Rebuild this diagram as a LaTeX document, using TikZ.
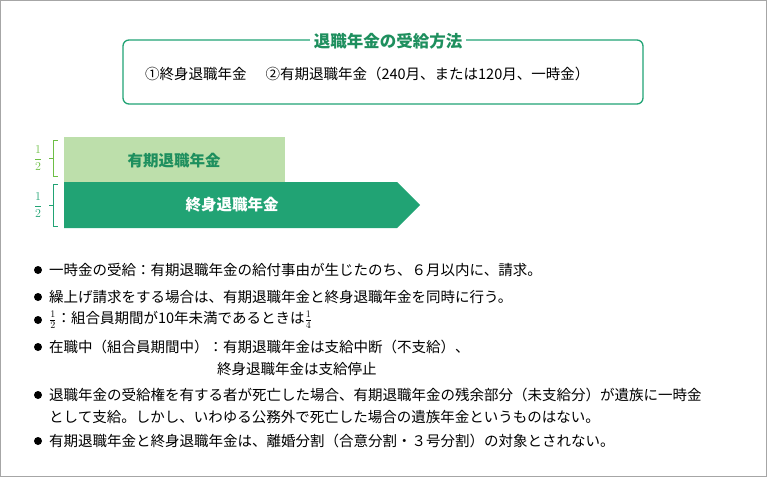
\documentclass[tikz,border=0pt]{standalone}
\usepackage{fontspec}
\setmainfont{Noto Sans CJK JP}
\usepackage{amsmath}
\definecolor{dgreen}{HTML}{21A374}
\definecolor{lgreen}{HTML}{BDDFAB}
\definecolor{tgreen}{HTML}{1E8F5E}
\definecolor{fgreen}{HTML}{6DBE45}
\begin{document}
\begin{tikzpicture}[x=1pt,y=-1pt,
  txt/.style={anchor=west,inner sep=0pt,font=\fontsize{14.5}{16}\selectfont},
  dot/.style={circle,fill=black,inner sep=0pt,minimum size=8pt},
  frac/.style={inner sep=0pt,font=\fontsize{13}{14}\selectfont}]
\useasboundingbox (0,0) rectangle (767,477);
\draw[gray!70] (0.5,0.5) rectangle (766.5,476.5);
% top box
\draw[dgreen,line width=1.3pt,rounded corners=6pt] (123,40) rectangle (643,104);
\node[fill=white,text=tgreen,font=\bfseries\fontsize{16.5}{18}\selectfont] (title) at (388,41) {退職年金の受給方法};
\node[txt] (ways) at (145,74) {①終身退職年金\hspace{1.3em}②有期退職年金（240月、または120月、一時金）};
% bars
\fill[lgreen] (64,137) rectangle (285,182);
\node[text=tgreen,font=\bfseries\fontsize{15.5}{17}\selectfont] (fixed) at (174,161) {有期退職年金};
\fill[dgreen] (64,182) -- (397,182) -- (420,205) -- (397,228) -- (64,228) -- cycle;
\node[text=white,font=\bfseries\fontsize{15.5}{17}\selectfont] (life) at (232,205) {終身退職年金};
% brackets
\draw[fgreen] (58,140) -- (53,140) -- (53,176) -- (58,176) (53,158) -- (49,158);
\node[frac,text=fgreen] (fa) at (38,158) {$\dfrac{1}{2}$};
\draw[dgreen] (58,184) -- (53,184) -- (53,226) -- (58,226) (53,205) -- (49,205);
\node[frac,text=dgreen] (fb) at (38,205) {$\dfrac{1}{2}$};
% notes
\foreach \y/\t in {
 270/{一時金の受給：有期退職年金の給付事由が生じたのち、６月以内に、請求。},
 297/{繰上げ請求をする場合は、有期退職年金と終身退職年金を同時に行う。},
 320/{$\tfrac{1}{2}$：組合員期間が10年未満であるときは$\tfrac{1}{4}$},
 347/{在職中（組合員期間中）：有期退職年金は支給中断（不支給）、},
 395/{退職年金の受給権を有する者が死亡した場合、有期退職年金の残余部分（未支給分）が遺族に一時金},
 441/{有期退職年金と終身退職年金は、離婚分割（合意分割・３号分割）の対象とされない。}}
 {\node[dot] at (38,\y) {}; \node[txt] at (49,\y) {\t};}
\node[txt] (cont1) at (217,369) {終身退職年金は支給停止};
\node[txt] (cont2) at (49,417) {として支給。しかし、いわゆる公務外で死亡した場合の遺族年金というものはない。};
\end{tikzpicture}
\end{document}
